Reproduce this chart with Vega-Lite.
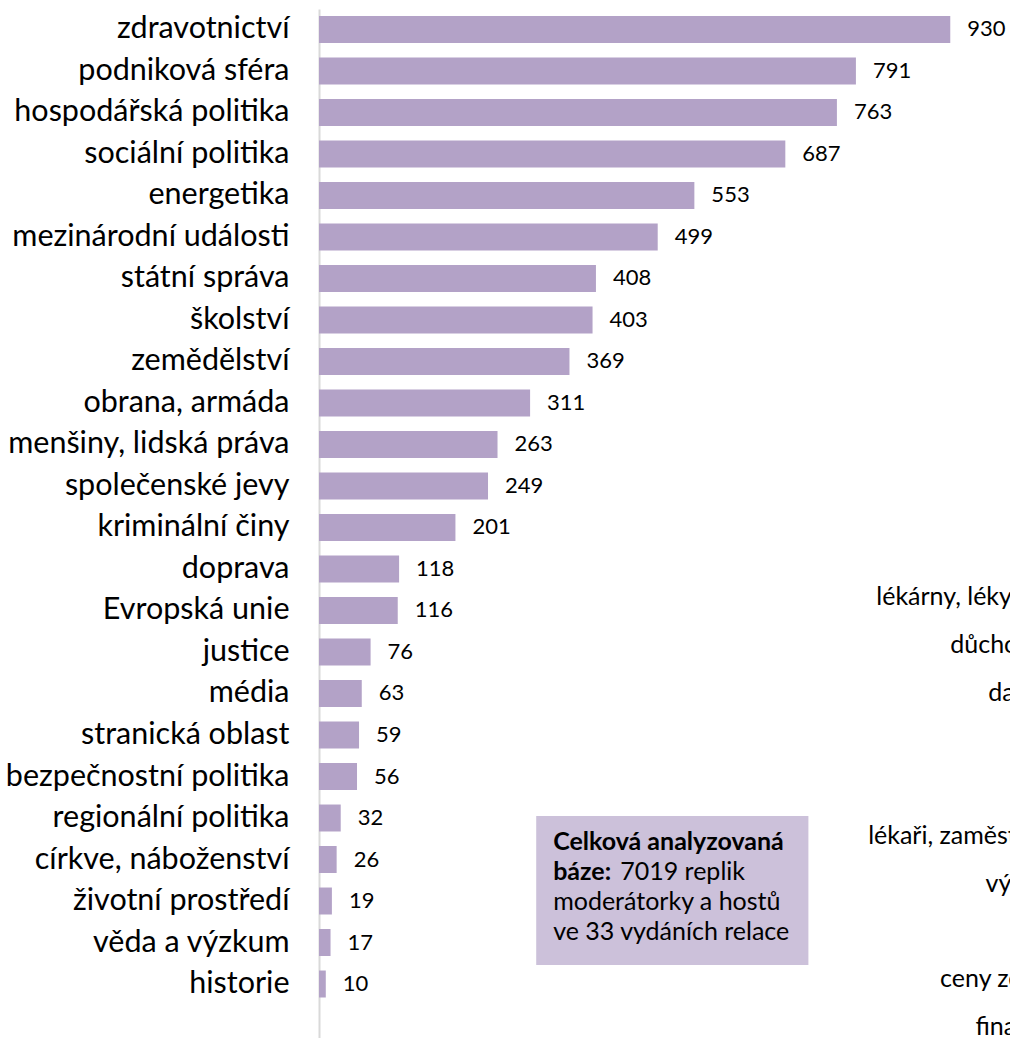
{
  "$schema": "https://vega.github.io/schema/vega-lite/v6.json",
  "width": 691,
  "height": 1029,
  "autosize": {"type": "none"},
  "padding": {"left": 319, "top": 9, "right": 0, "bottom": 0},
  "background": "white",
  "config": {"view": {"stroke": null}, "font": "Lato"},
  "datasets": {
    "topics": [
      {"topic": "zdravotnictví", "count": 930},
      {"topic": "podniková sféra", "count": 791},
      {"topic": "hospodářská politika", "count": 763},
      {"topic": "sociální politika", "count": 687},
      {"topic": "energetika", "count": 553},
      {"topic": "mezinárodní události", "count": 499},
      {"topic": "státní správa", "count": 408},
      {"topic": "školství", "count": 403},
      {"topic": "zemědělství", "count": 369},
      {"topic": "obrana, armáda", "count": 311},
      {"topic": "menšiny, lidská práva", "count": 263},
      {"topic": "společenské jevy", "count": 249},
      {"topic": "kriminální činy", "count": 201},
      {"topic": "doprava", "count": 118},
      {"topic": "Evropská unie", "count": 116},
      {"topic": "justice", "count": 76},
      {"topic": "média", "count": 63},
      {"topic": "stranická oblast", "count": 59},
      {"topic": "bezpečnostní politika", "count": 56},
      {"topic": "regionální politika", "count": 32},
      {"topic": "církve, náboženství", "count": 26},
      {"topic": "životní prostředí", "count": 19},
      {"topic": "věda a výzkum", "count": 17},
      {"topic": "historie", "count": 10}
    ],
    "box": [
      {"x": 320, "x2": 721, "tx": 345, "from": "regionální politika", "to": "věda a výzkum"}
    ],
    "fragments": [
      {"label": "lékárny, léky", "start": 821, "row": 0},
      {"label": "důchody", "start": 930, "row": 1},
      {"label": "daně", "start": 986, "row": 2},
      {"label": "lékaři, zaměstnanci", "start": 809, "row": 5},
      {"label": "výše", "start": 982, "row": 6},
      {"label": "ceny zemědělských", "start": 915, "row": 8},
      {"label": "finance", "start": 967, "row": 9}
    ]
  },
  "resolve": {"scale": {"y": "independent"}},
  "layer": [
    {
      "encoding": {
        "y": {
          "field": "topic",
          "type": "nominal",
          "sort": null,
          "scale": {
            "domain": ["zdravotnictví", "podniková sféra", "hospodářská politika", "sociální politika", "energetika", "mezinárodní události", "státní správa", "školství", "zemědělství", "obrana, armáda", "menšiny, lidská práva", "společenské jevy", "kriminální činy", "doprava", "Evropská unie", "justice", "média", "stranická oblast", "bezpečnostní politika", "regionální politika", "církve, náboženství", "životní prostředí", "věda a výzkum", "historie"],
            "paddingInner": 0.35,
            "paddingOuter": 0.572,
            "align": 0.147
          },
          "axis": {
            "title": null,
            "domainColor": "#D9D9D9",
            "domainWidth": 2,
            "ticks": false,
            "tickSize": 0,
            "labelPadding": 30,
            "labelFont": "Lato",
            "labelFontSize": 30.5,
            "labelColor": "#000000",
            "labelLimit": 0,
            "grid": false
          }
        }
      },
      "layer": [
        {
          "data": {"name": "topics"},
          "mark": {"type": "bar", "color": "#B3A2C7"},
          "encoding": {
            "x": {"field": "count", "type": "quantitative", "scale": {"domain": [0, 1018], "nice": false}, "axis": null}
          }
        },
        {
          "data": {"name": "topics"},
          "mark": {"type": "text", "align": "left", "baseline": "middle", "dx": 17, "fontSize": 22, "color": "#000000"},
          "encoding": {
            "x": {"field": "count", "type": "quantitative"},
            "text": {"field": "count", "type": "quantitative", "format": "d"}
          }
        },
        {
          "data": {"name": "box"},
          "mark": {"type": "rect", "color": "#CCC1DA"},
          "encoding": {
            "x": {"field": "x", "type": "quantitative"},
            "x2": {"field": "x2"},
            "y": {"field": "from", "type": "nominal", "sort": null, "bandPosition": 0.426},
            "y2": {"field": "to", "bandPosition": 1.333}
          }
        },
        {
          "data": {"name": "box"},
          "mark": {"type": "text", "align": "left", "baseline": "alphabetic", "fontSize": 25, "fontWeight": "bold", "lineHeight": 30, "color": "#000000", "text": ["Celková analyzovaná", "báze:"]},
          "encoding": {
            "x": {"field": "tx", "type": "quantitative"},
            "y": {"field": "from", "type": "nominal", "sort": null, "bandPosition": 1.685}
          }
        },
        {
          "data": {"name": "box"},
          "mark": {"type": "text", "align": "left", "baseline": "alphabetic", "fontSize": 25, "dx": 67, "dy": 30, "color": "#000000", "text": "7019 replik"},
          "encoding": {
            "x": {"field": "tx", "type": "quantitative"},
            "y": {"field": "from", "type": "nominal", "sort": null, "bandPosition": 1.685}
          }
        },
        {
          "data": {"name": "box"},
          "mark": {"type": "text", "align": "left", "baseline": "alphabetic", "fontSize": 25, "dy": 60, "lineHeight": 30, "color": "#000000", "text": ["moderátorky a hostů", "ve 33 vydáních relace"]},
          "encoding": {
            "x": {"field": "tx", "type": "quantitative"},
            "y": {"field": "from", "type": "nominal", "sort": null, "bandPosition": 1.685}
          }
        }
      ]
    },
    {
      "data": {"name": "fragments"},
      "mark": {"type": "text", "align": "left", "baseline": "middle", "fontSize": 25, "color": "#000000", "clip": true},
      "encoding": {
        "x": {"field": "start", "type": "quantitative"},
        "y": {"field": "row", "type": "quantitative", "scale": {"domain": [-12.301, 9.226], "reverse": true, "nice": false, "zero": false}, "axis": null},
        "text": {"field": "label", "type": "nominal"}
      }
    }
  ]
}
